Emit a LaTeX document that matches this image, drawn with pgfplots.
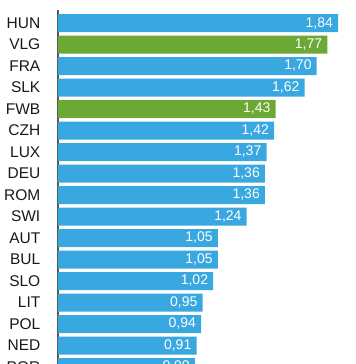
\documentclass[border=0pt]{standalone}
\usepackage{fontspec}
\setmainfont{Liberation Sans}
\usepackage{pgfplots}
\pgfplotsset{compat=1.18}
\definecolor{barblue}{RGB}{58,168,224}
\definecolor{bargreen}{RGB}{108,168,52}
\definecolor{axisgray}{RGB}{85,85,85}
\begin{document}
\begin{tikzpicture}
\useasboundingbox (0,0) rectangle (356bp,364bp);
\clip (0,0) rectangle (356bp,364bp);
\begin{axis}[
  at={(58bp,354bp)}, anchor=north west,
  scale only axis, width=304.4bp, height=367.75bp,
  xmin=0, xmax=2, ymin=-0.605, ymax=16.5, y dir=reverse,
  axis x line=none, axis y line*=left,
  y axis line style={axisgray, line width=1.2bp},
  ytick={0,...,16},
  yticklabels={HUN,VLG,FRA,SLK,FWB,CZH,LUX,DEU,ROM,SWI,AUT,BUL,SLO,LIT,POL,NED,POR},
  major tick length=0pt,
  yticklabel style={font=\fontsize{15.5bp}{17bp}\selectfont, text=black!90, inner sep=0pt, anchor=east, xshift=-17.5bp},
  xbar, bar width=18bp, bar shift=0pt,
  point meta=x,
  nodes near coords={\pgfmathprintnumber[fixed,fixed zerofill,precision=2,use comma,assume math mode=true]{\pgfplotspointmeta}},
  nodes near coords style={font=\fontsize{14bp}{16bp}\selectfont, text=white, anchor=east, inner sep=0pt, xshift=-5bp},
  clip=false,
]
\addplot[fill=barblue, draw=none] coordinates {
 (1.84,0) (1.70,2) (1.62,3) (1.42,5) (1.37,6) (1.36,7) (1.36,8) (1.24,9)
 (1.05,10) (1.05,11) (1.02,12) (0.95,13) (0.94,14) (0.91,15) (0.90,16)};
\addplot[fill=bargreen, draw=none] coordinates {(1.77,1) (1.43,4)};
\end{axis}
\end{tikzpicture}
\end{document}
